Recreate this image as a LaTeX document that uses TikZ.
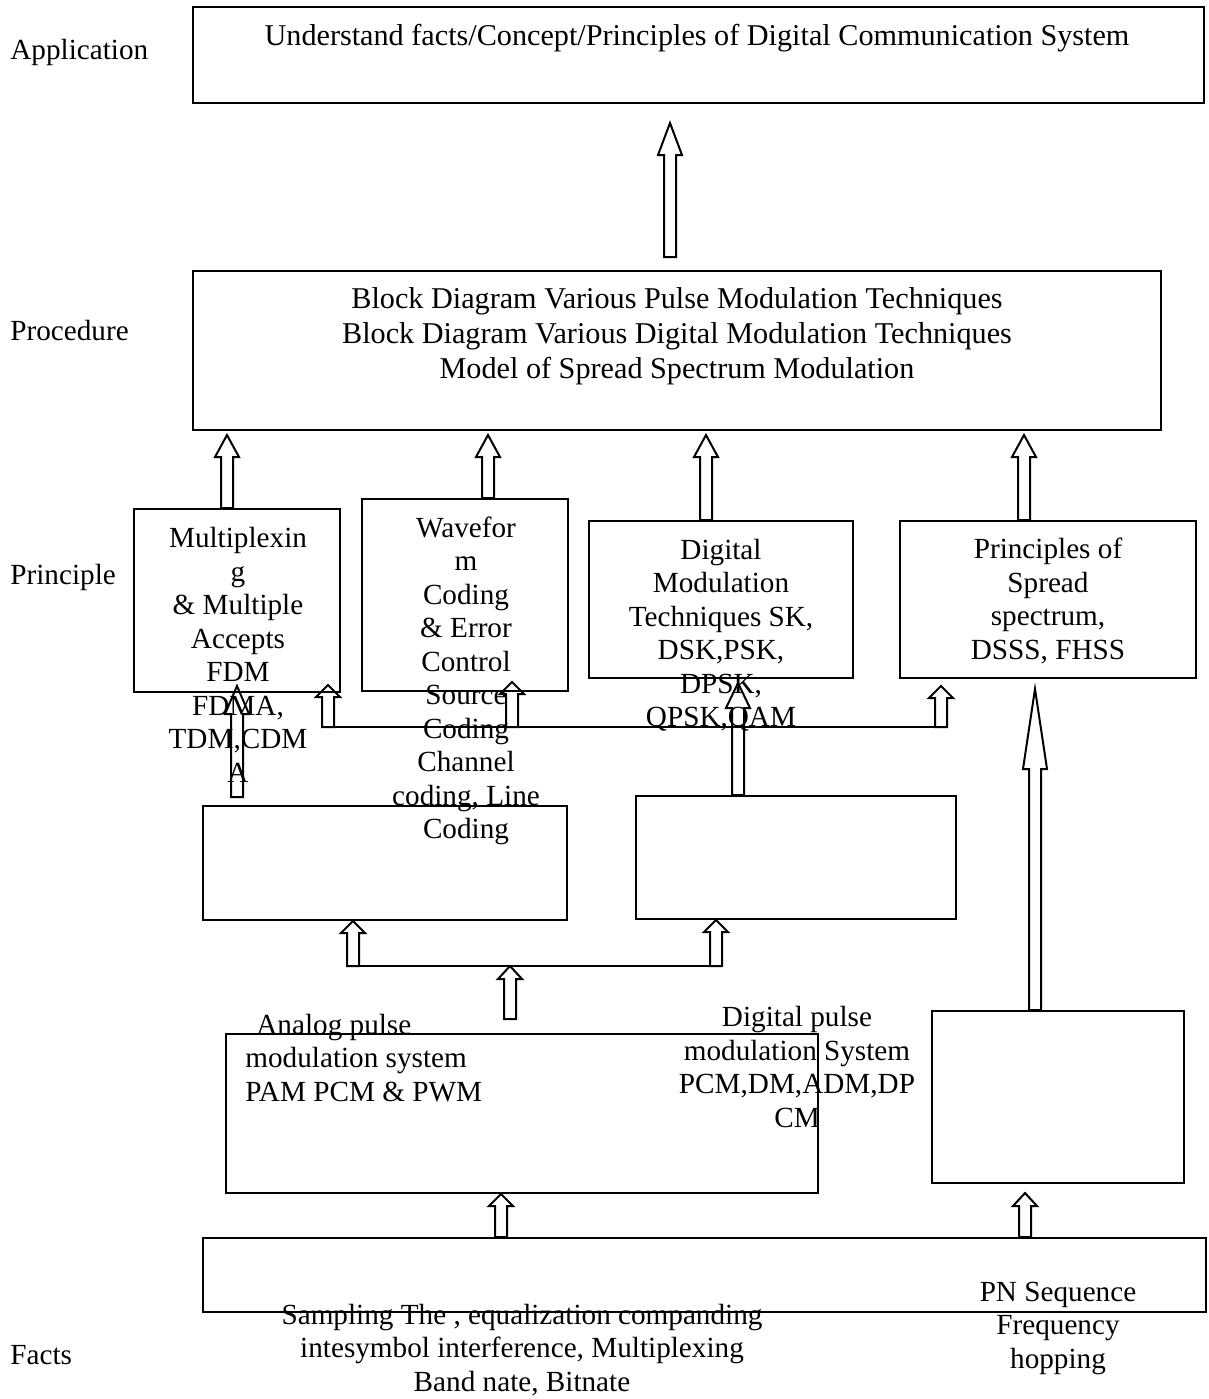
\documentclass[tikz,border=0pt]{standalone}
\usepackage{fontspec}
\setmainfont{Liberation Serif}
\usetikzlibrary{fit,calc}

\newcommand\blockarr[4][22]{%
	\draw[blockarrow] let \p1=(#3), \p2=(#4), \p3=(#2,0) in
		(\x3-3pt,\y1) -- (\x3-3pt,\y2-#1*0.5pt) -- (\x3-6pt,\y2-#1*0.5pt) -- (\x3,\y2)
		-- (\x3+6pt,\y2-#1*0.5pt) -- (\x3+3pt,\y2-#1*0.5pt) -- (\x3+3pt,\y1) -- cycle;
}

\begin{document}
\begin{tikzpicture}[x=0.5pt, y=-0.5pt,
		box/.style={rectangle, draw, line width=1pt, inner sep=0pt},
		txt/.style={align=center, inner sep=0pt, font=\fontsize{14.6}{16.75}\selectfont},
		bigtxt/.style={txt, font=\fontsize{15.1}{17.5}\selectfont},
		lbl/.style={anchor=west, inner sep=0pt, font=\fontsize{14.6}{16.75}\selectfont},
		blockarrow/.style={draw, line width=1pt, line join=miter}
]

\path[use as bounding box, fill=white] (0,0) rectangle (1209,1399);

\node [box, fit={(193,7) (1204,103)}] (app) {};
\node [box, fit={(193,271) (1161,430)}] (proc) {};
\node [box, fit={(134,509) (340,692)}] (mux) {};
\node [box, fit={(362,499) (568,691)}] (wave) {};
\node [box, fit={(589,521) (853,678)}] (digmod) {};
\node [box, fit={(900,521) (1196,678)}] (spread) {};
\node [box, fit={(203,806) (567,920)}] (mida) {};
\node [box, fit={(636,796) (956,919)}] (midb) {};
\node [box, fit={(226,1034) (818,1193)}] (analog) {};
\node [box, fit={(932,1011) (1184,1183)}] (pn) {};
\node [box, fit={(203,1238) (1206,1312)}] (facts) {};

\node [lbl] (application) at (10,52) {Application};
\node [lbl] (procedure) at (10,331) {Procedure};
\node [lbl] (principle) at (10,577) {Principle};
\node [lbl] (factslbl) at (10,1355) {Facts};

\node [bigtxt] (apptext) at (697,38) {Understand facts/Concept/Principles of Digital Communication System};
\node [bigtxt] (proctext) at (677,336) {Block Diagram Various Pulse Modulation Techniques\\Block Diagram Various Digital Modulation Techniques\\Model of Spread Spectrum Modulation};
\node [txt] (muxtext) at (238,655) {Multiplexin\\g\\\& Multiple\\Accepts\\FDM\\FDMA,\\TDM,CDM\\A};
\node [txt] (wavetext) at (466,681) {Wavefor\\m\\Coding\\\& Error\\Control\\Source\\Coding\\Channel\\coding, Line\\Coding};
\node [txt] (digtext) at (721,635) {Digital\\Modulation\\Techniques SK,\\DSK,PSK,\\DPSK,\\QPSK,QAM};
\node [txt] (spreadtext) at (1048,601) {Principles of\\Spread\\spectrum,\\DSSS, FHSS};
\node [txt, align=left, anchor=west] (analogtext) at (245,1058) {\hspace*{5.5pt}Analog pulse\\modulation system\\PAM PCM \& PWM};
\node [txt] (digptext) at (797,1067) {Digital pulse\\modulation System\\PCM,DM,ADM,DP\\CM};
\node [txt] (factstext) at (522,1350) {Sampling The , equalization companding\\intesymbol interference, Multiplexing\\Band nate, Bitnate};
\node [txt] (pntext) at (1058,1328) {PN Sequence\\Frequency\\hopping};

\coordinate (busa) at (327,727);
\coordinate (busb) at (941,727);
\coordinate (busc) at (355,966);
\coordinate (busd) at (719,966);
\draw [line width=1pt] (busa) -- (busb);
\draw [line width=1pt] (busc) -- (busd);

\blockarr[32]{670}{[yshift=6.5pt]proc.north}{[yshift=-9.5pt]app.south}
\blockarr{227}{mux.north}{[yshift=-2pt]proc.south}
\blockarr{488}{wave.north}{[yshift=-2pt]proc.south}
\blockarr{706}{digmod.north}{[yshift=-2pt]proc.south}
\blockarr{1024}{spread.north}{[yshift=-2pt]proc.south}
\blockarr[12]{328}{busa}{[yshift=4pt]mux.south}
\blockarr[12]{512}{busa}{[yshift=5pt]wave.south}
\blockarr[12]{941}{busb}{[yshift=-3.5pt]spread.south}
\blockarr[28]{237}{[yshift=4pt]mida.north}{[yshift=3.5pt]mux.south}
\blockarr[25]{738}{midb.north}{[yshift=-2pt]digmod.south}
\blockarr[12]{353}{busc}{mida.south}
\blockarr[12]{716}{busd}{midb.south}
\blockarr[13]{510}{[yshift=7pt]analog.north}{busc}
\blockarr[80]{1035}{pn.north}{[yshift=-5pt]spread.south}
\blockarr[12]{501}{facts.north}{analog.south}
\blockarr[13]{1025}{facts.north}{[yshift=-4.5pt]pn.south}

\end{tikzpicture}
\end{document}
